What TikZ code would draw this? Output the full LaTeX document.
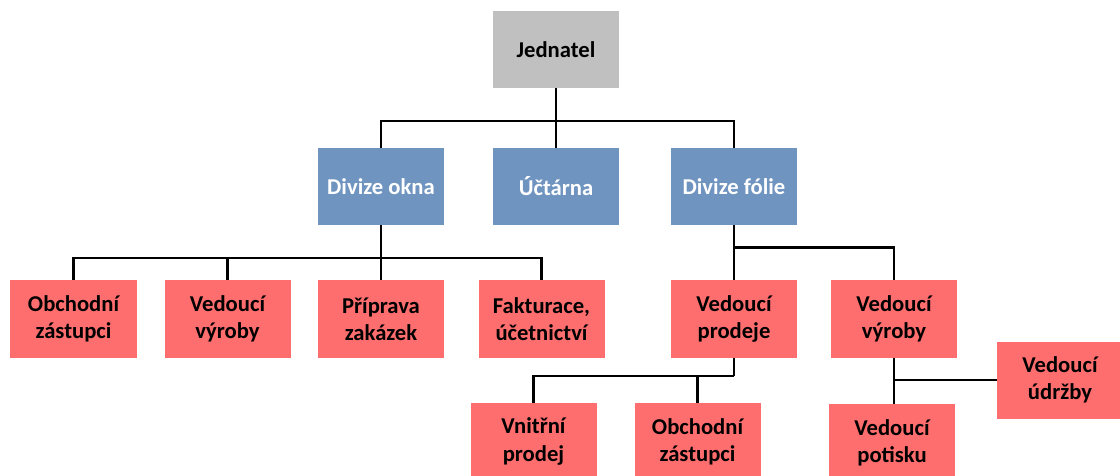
\documentclass[tikz,border=0pt]{standalone}
\usepackage{fontspec}
\setmainfont{Carlito}
\usepackage{tikz}
\usetikzlibrary{positioning}
\definecolor{sede}{RGB}{192,192,192}
\definecolor{modra}{RGB}{112,148,192}
\definecolor{ruzova}{RGB}{255,110,110}

\begin{document}
\begin{tikzpicture}[box/.style={minimum width=3.15cm, minimum height=1.925cm, inner sep=0pt, align=center, font=\fontsize{16.1}{19.4}\selectfont\bfseries}, vedeni/.style={box, fill=sede}, divize/.style={box, fill=modra, text=white}, oddeleni/.style={box, fill=ruzova}, spoj/.style={line width=1.5pt}]
	\clip (0,0) rectangle (28,-11.9);

	\node[vedeni] (jed) at (13.9,-1.2375) {Jednatel};
	\node[divize] (okna) at (9.525,-4.6625) {Divize okna}; \node[divize] (uct) at (13.9,-4.6625) {Účtárna}; \node[divize] (fol) at (18.35,-4.6625) {Divize fólie};

	\node[oddeleni] (obch) at (1.8375,-7.975) {Obchodní\\zástupci}; \node[oddeleni] (vyr) at (5.6875,-7.975) {Vedoucí\\výroby}; \node[oddeleni] (prip) at (9.525,-7.975) {Příprava\\zakázek}; \node[oddeleni] (fakt) at (13.5375,-7.975) {Fakturace,\\účetnictví};
	\node[oddeleni] (prod) at (18.35,-7.975) {Vedoucí\\prodeje}; \node[oddeleni] (vyr2) at (22.35,-7.975) {Vedoucí\\výroby};
	\node[oddeleni] (udr) at (26.5,-9.5) {Vedoucí\\údržby};
	\node[oddeleni] (vnit) at (13.3375,-11.0375) {Vnitřní\\prodej}; \node[oddeleni] (obch2) at (17.4375,-11.0375) {Obchodní\\zástupci}; \node[oddeleni] (pot) at (22.3,-11.0625) {Vedoucí\\potisku};

	% jednatel -> divize
	\coordinate (b1) at (13.9,-3.025); \draw[spoj] (okna) |- (b1) -| (fol); \draw[spoj] (jed) -- (uct);
	% divize okna
	\coordinate (b2) at (9.525,-6.45); \draw[spoj] (obch) |- (b2) -| (fakt); \draw[spoj] (okna) -- (prip); \draw[spoj] (vyr) |- (b2);
	% divize folie
	\coordinate (b3) at (18.35,-6.1875); \draw[spoj] (fol) -- (prod); \draw[spoj] (vyr2) |- (b3);
	\coordinate (b4) at (18.35,-9.4); \draw[spoj] (prod) -- (b4); \draw[spoj] (vnit) |- (b4); \draw[spoj] (obch2) |- (b4);
	\draw[spoj] (vyr2) -- (vyr2 |- pot.north); \draw[spoj] (udr) -- (udr -| vyr2);
\end{tikzpicture}
\end{document}
